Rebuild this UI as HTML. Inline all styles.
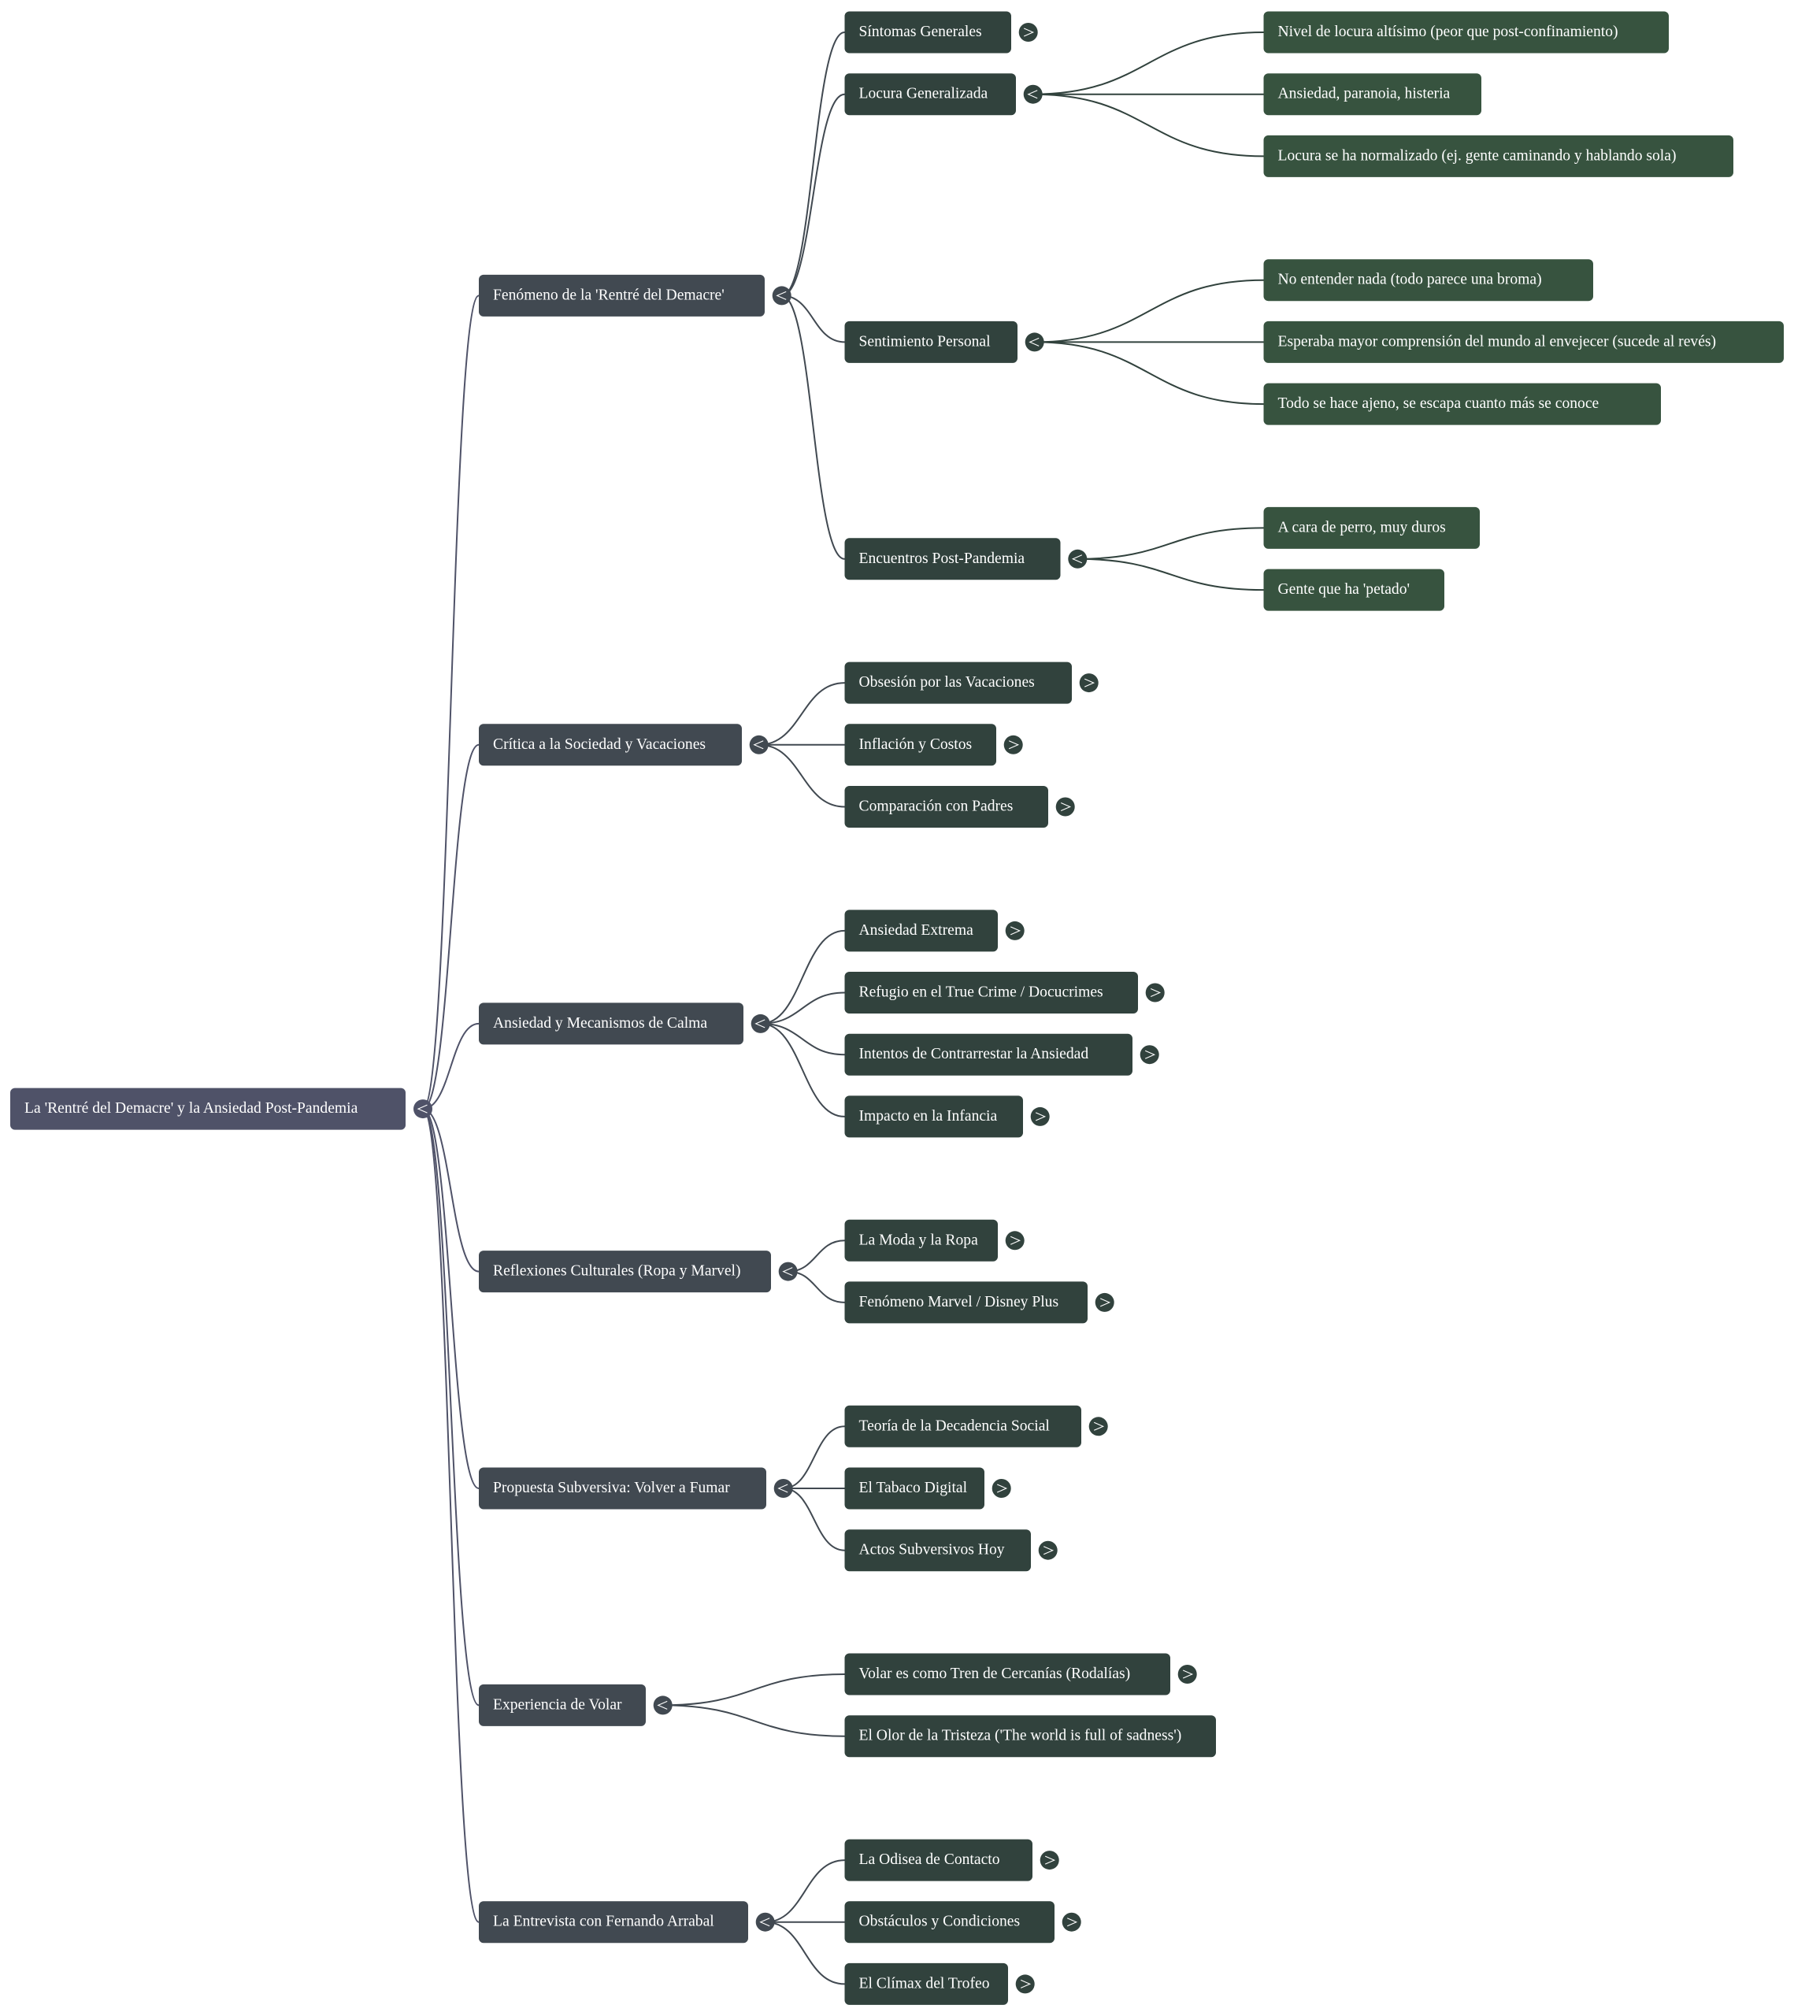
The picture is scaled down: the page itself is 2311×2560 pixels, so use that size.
<!DOCTYPE html>
<html><head><meta charset="utf-8"><style>
html,body{margin:0;padding:0;background:#fff;width:2311px;height:2560px;overflow:hidden}
svg{display:block}
text{font-family:"Liberation Serif","Times New Roman",serif;font-size:19.6px;fill:#fff}
.lr{fill:none;stroke:#4f5268;stroke-width:2}
.l1{fill:none;stroke:#414951;stroke-width:2}
.l2{fill:none;stroke:#31423d;stroke-width:2}
.ch{fill:none;stroke:#fff;stroke-width:1.1}
</style></head><body>
<svg width="2311" height="2560" viewBox="0 0 2311 2560" xmlns="http://www.w3.org/2000/svg">
<!-- root links -->
<g class="lr">
<path d="M537 1408.1C572.5 1408.1 572.5 375.4 608 375.4"/>
<path d="M537 1408.1C572.5 1408.1 572.5 945.8 608 945.8"/>
<path d="M537 1408.1C572.5 1408.1 572.5 1299.9 608 1299.9"/>
<path d="M537 1408.1C572.5 1408.1 572.5 1614.6 608 1614.6"/>
<path d="M537 1408.1C572.5 1408.1 572.5 1890 608 1890"/>
<path d="M537 1408.1C572.5 1408.1 572.5 2165.4 608 2165.4"/>
<path d="M537 1408.1C572.5 1408.1 572.5 2440.7 608 2440.7"/>
</g>
<!-- level1 links -->
<g class="l1">
<path d="M992.7 375.4C1032.6 375.4 1032.6 41 1072.5 41"/>
<path d="M992.7 375.4C1032.6 375.4 1032.6 119.7 1072.5 119.7"/>
<path d="M992.7 375.4C1032.6 375.4 1032.6 434.4 1072.5 434.4"/>
<path d="M992.7 375.4C1032.6 375.4 1032.6 709.8 1072.5 709.8"/>
<path d="M963.7 945.8C1018.1 945.8 1018.1 867.1 1072.5 867.1"/>
<path d="M963.7 945.8C1018.1 945.8 1018.1 945.8 1072.5 945.8"/>
<path d="M963.7 945.8C1018.1 945.8 1018.1 1024.5 1072.5 1024.5"/>
<path d="M965.7 1299.9C1019.1 1299.9 1019.1 1181.9 1072.5 1181.9"/>
<path d="M965.7 1299.9C1019.1 1299.9 1019.1 1260.5 1072.5 1260.5"/>
<path d="M965.7 1299.9C1019.1 1299.9 1019.1 1339.2 1072.5 1339.2"/>
<path d="M965.7 1299.9C1019.1 1299.9 1019.1 1417.9 1072.5 1417.9"/>
<path d="M1000.7 1614.6C1036.6 1614.6 1036.6 1575.3 1072.5 1575.3"/>
<path d="M1000.7 1614.6C1036.6 1614.6 1036.6 1653.9 1072.5 1653.9"/>
<path d="M994.7 1890C1033.6 1890 1033.6 1811.3 1072.5 1811.3"/>
<path d="M994.7 1890C1033.6 1890 1033.6 1890 1072.5 1890"/>
<path d="M994.7 1890C1033.6 1890 1033.6 1968.7 1072.5 1968.7"/>
<path d="M841.7 2165.4C957.1 2165.4 957.1 2126 1072.5 2126"/>
<path d="M841.7 2165.4C957.1 2165.4 957.1 2204.7 1072.5 2204.7"/>
<path d="M971.7 2440.7C1022.1 2440.7 1022.1 2362.1 1072.5 2362.1"/>
<path d="M971.7 2440.7C1022.1 2440.7 1022.1 2440.7 1072.5 2440.7"/>
<path d="M971.7 2440.7C1022.1 2440.7 1022.1 2519.4 1072.5 2519.4"/>
</g>
<!-- level2 links -->
<g class="l2">
<path d="M1311.7 119.7C1458.1 119.7 1458.1 41 1604.5 41"/>
<path d="M1311.7 119.7C1458.1 119.7 1458.1 119.7 1604.5 119.7"/>
<path d="M1311.7 119.7C1458.1 119.7 1458.1 198.4 1604.5 198.4"/>
<path d="M1313.7 434.4C1459.1 434.4 1459.1 355.7 1604.5 355.7"/>
<path d="M1313.7 434.4C1459.1 434.4 1459.1 434.4 1604.5 434.4"/>
<path d="M1313.7 434.4C1459.1 434.4 1459.1 513.1 1604.5 513.1"/>
<path d="M1368.3 709.8C1486.4 709.8 1486.4 670.4 1604.5 670.4"/>
<path d="M1368.3 709.8C1486.4 709.8 1486.4 749.1 1604.5 749.1"/>
</g>

<!-- root node -->
<rect x="13" y="1381.6" width="502" height="53" rx="6" fill="#4f5268"/>
<text x="31" y="1413.1">La 'Rentré del Demacre' y la Ansiedad Post-Pandemia</text>
<g transform="translate(537,1408.1)"><circle r="12" fill="#4f5268"/><polyline class="ch" points="5.5,-5 -6,0 5.5,5"/></g>

<!-- level1 nodes -->
<g fill="#414951">
<rect x="608" y="348.9" width="363" height="53" rx="6"/>
<rect x="608" y="919.3" width="334" height="53" rx="6"/>
<rect x="608" y="1273.4" width="336" height="53" rx="6"/>
<rect x="608" y="1588.1" width="371" height="53" rx="6"/>
<rect x="608" y="1863.5" width="365" height="53" rx="6"/>
<rect x="608" y="2138.9" width="212" height="53" rx="6"/>
<rect x="608" y="2414.2" width="342" height="53" rx="6"/>
<circle cx="992.7" cy="375.4" r="12"/>
<circle cx="963.7" cy="945.8" r="12"/>
<circle cx="965.7" cy="1299.9" r="12"/>
<circle cx="1000.7" cy="1614.6" r="12"/>
<circle cx="994.7" cy="1890" r="12"/>
<circle cx="841.7" cy="2165.4" r="12"/>
<circle cx="971.7" cy="2440.7" r="12"/>
</g>
<text x="626" y="380.4">Fenómeno de la 'Rentré del Demacre'</text>
<text x="626" y="950.8">Crítica a la Sociedad y Vacaciones</text>
<text x="626" y="1304.9">Ansiedad y Mecanismos de Calma</text>
<text x="626" y="1619.6">Reflexiones Culturales (Ropa y Marvel)</text>
<text x="626" y="1895">Propuesta Subversiva: Volver a Fumar</text>
<text x="626" y="2170.4">Experiencia de Volar</text>
<text x="626" y="2445.7">La Entrevista con Fernando Arrabal</text>
<g class="ch">
<polyline points="998.2,370.4 986.7,375.4 998.2,380.4"/>
<polyline points="969.2,940.8 957.7,945.8 969.2,950.8"/>
<polyline points="971.2,1294.9 959.7,1299.9 971.2,1304.9"/>
<polyline points="1006.2,1609.6 994.7,1614.6 1006.2,1619.6"/>
<polyline points="1000.2,1885 988.7,1890 1000.2,1895"/>
<polyline points="847.2,2160.4 835.7,2165.4 847.2,2170.4"/>
<polyline points="977.2,2435.7 965.7,2440.7 977.2,2445.7"/>
</g>

<!-- level2 nodes -->
<g fill="#31423d">
<rect x="1072.5" y="14.5" width="211.5" height="53" rx="6"/>
<rect x="1072.5" y="93.2" width="217.5" height="53" rx="6"/>
<rect x="1072.5" y="407.9" width="219.5" height="53" rx="6"/>
<rect x="1072.5" y="683.3" width="274" height="53" rx="6"/>
<rect x="1072.5" y="840.6" width="288.5" height="53" rx="6"/>
<rect x="1072.5" y="919.3" width="192.5" height="53" rx="6"/>
<rect x="1072.5" y="998" width="258.5" height="53" rx="6"/>
<rect x="1072.5" y="1155.4" width="194.5" height="53" rx="6"/>
<rect x="1072.5" y="1234" width="372.5" height="53" rx="6"/>
<rect x="1072.5" y="1312.7" width="365.5" height="53" rx="6"/>
<rect x="1072.5" y="1391.4" width="226.5" height="53" rx="6"/>
<rect x="1072.5" y="1548.8" width="194.5" height="53" rx="6"/>
<rect x="1072.5" y="1627.4" width="308.5" height="53" rx="6"/>
<rect x="1072.5" y="1784.8" width="300.5" height="53" rx="6"/>
<rect x="1072.5" y="1863.5" width="177.5" height="53" rx="6"/>
<rect x="1072.5" y="1942.2" width="236.5" height="53" rx="6"/>
<rect x="1072.5" y="2099.5" width="413.5" height="53" rx="6"/>
<rect x="1072.5" y="2178.2" width="471.5" height="53" rx="6"/>
<rect x="1072.5" y="2335.6" width="238.5" height="53" rx="6"/>
<rect x="1072.5" y="2414.2" width="266.5" height="53" rx="6"/>
<rect x="1072.5" y="2492.9" width="207.5" height="53" rx="6"/>
<circle cx="1305.7" cy="41" r="12"/>
<circle cx="1311.7" cy="119.7" r="12"/>
<circle cx="1313.7" cy="434.4" r="12"/>
<circle cx="1368.3" cy="709.8" r="12"/>
<circle cx="1382.7" cy="867.1" r="12"/>
<circle cx="1286.7" cy="945.8" r="12"/>
<circle cx="1352.7" cy="1024.5" r="12"/>
<circle cx="1288.7" cy="1181.9" r="12"/>
<circle cx="1466.7" cy="1260.5" r="12"/>
<circle cx="1459.7" cy="1339.2" r="12"/>
<circle cx="1320.7" cy="1417.9" r="12"/>
<circle cx="1288.7" cy="1575.3" r="12"/>
<circle cx="1402.7" cy="1653.9" r="12"/>
<circle cx="1394.7" cy="1811.3" r="12"/>
<circle cx="1271.7" cy="1890" r="12"/>
<circle cx="1330.7" cy="1968.7" r="12"/>
<circle cx="1507.7" cy="2126" r="12"/>
<circle cx="1332.7" cy="2362.1" r="12"/>
<circle cx="1360.7" cy="2440.7" r="12"/>
<circle cx="1301.7" cy="2519.4" r="12"/>
</g>
<text x="1090.5" y="46">Síntomas Generales</text>
<text x="1090.5" y="124.7">Locura Generalizada</text>
<text x="1090.5" y="439.4">Sentimiento Personal</text>
<text x="1090.5" y="714.8">Encuentros Post-Pandemia</text>
<text x="1090.5" y="872.1">Obsesión por las Vacaciones</text>
<text x="1090.5" y="950.8">Inflación y Costos</text>
<text x="1090.5" y="1029.5">Comparación con Padres</text>
<text x="1090.5" y="1186.9">Ansiedad Extrema</text>
<text x="1090.5" y="1265.5">Refugio en el True Crime / Docucrimes</text>
<text x="1090.5" y="1344.2">Intentos de Contrarrestar la Ansiedad</text>
<text x="1090.5" y="1422.9">Impacto en la Infancia</text>
<text x="1090.5" y="1580.3">La Moda y la Ropa</text>
<text x="1090.5" y="1658.9">Fenómeno Marvel / Disney Plus</text>
<text x="1090.5" y="1816.3">Teoría de la Decadencia Social</text>
<text x="1090.5" y="1895">El Tabaco Digital</text>
<text x="1090.5" y="1973.7">Actos Subversivos Hoy</text>
<text x="1090.5" y="2131">Volar es como Tren de Cercanías (Rodalías)</text>
<text x="1090.5" y="2209.7">El Olor de la Tristeza ('The world is full of sadness')</text>
<text x="1090.5" y="2367.1">La Odisea de Contacto</text>
<text x="1090.5" y="2445.7">Obstáculos y Condiciones</text>
<text x="1090.5" y="2524.4">El Clímax del Trofeo</text>
<g class="ch">
<polyline points="1300.2,36 1311.7,41 1300.2,46"/>
<polyline points="1317.2,114.7 1305.7,119.7 1317.2,124.7"/>
<polyline points="1319.2,429.4 1307.7,434.4 1319.2,439.4"/>
<polyline points="1373.8,704.8 1362.3,709.8 1373.8,714.8"/>
<polyline points="1377.2,862.1 1388.7,867.1 1377.2,872.1"/>
<polyline points="1281.2,940.8 1292.7,945.8 1281.2,950.8"/>
<polyline points="1347.2,1019.5 1358.7,1024.5 1347.2,1029.5"/>
<polyline points="1283.2,1176.9 1294.7,1181.9 1283.2,1186.9"/>
<polyline points="1461.2,1255.5 1472.7,1260.5 1461.2,1265.5"/>
<polyline points="1454.2,1334.2 1465.7,1339.2 1454.2,1344.2"/>
<polyline points="1315.2,1412.9 1326.7,1417.9 1315.2,1422.9"/>
<polyline points="1283.2,1570.3 1294.7,1575.3 1283.2,1580.3"/>
<polyline points="1397.2,1648.9 1408.7,1653.9 1397.2,1658.9"/>
<polyline points="1389.2,1806.3 1400.7,1811.3 1389.2,1816.3"/>
<polyline points="1266.2,1885 1277.7,1890 1266.2,1895"/>
<polyline points="1325.2,1963.7 1336.7,1968.7 1325.2,1973.7"/>
<polyline points="1502.2,2121 1513.7,2126 1502.2,2131"/>
<polyline points="1327.2,2357.1 1338.7,2362.1 1327.2,2367.1"/>
<polyline points="1355.2,2435.7 1366.7,2440.7 1355.2,2445.7"/>
<polyline points="1296.2,2514.4 1307.7,2519.4 1296.2,2524.4"/>
</g>

<!-- level3 nodes -->
<g fill="#37533f">
<rect x="1604.5" y="14.5" width="514.5" height="53" rx="6"/>
<rect x="1604.5" y="93.2" width="276.5" height="53" rx="6"/>
<rect x="1604.5" y="171.9" width="596.5" height="53" rx="6"/>
<rect x="1604.5" y="329.2" width="418.5" height="53" rx="6"/>
<rect x="1604.5" y="407.9" width="660.5" height="53" rx="6"/>
<rect x="1604.5" y="486.6" width="504.5" height="53" rx="6"/>
<rect x="1604.5" y="643.9" width="274.5" height="53" rx="6"/>
<rect x="1604.5" y="722.6" width="229.5" height="53" rx="6"/>
</g>
<text x="1622.5" y="46">Nivel de locura altísimo (peor que post-confinamiento)</text>
<text x="1622.5" y="124.7">Ansiedad, paranoia, histeria</text>
<text x="1622.5" y="203.4">Locura se ha normalizado (ej. gente caminando y hablando sola)</text>
<text x="1622.5" y="360.7">No entender nada (todo parece una broma)</text>
<text x="1622.5" y="439.4">Esperaba mayor comprensión del mundo al envejecer (sucede al revés)</text>
<text x="1622.5" y="518.1">Todo se hace ajeno, se escapa cuanto más se conoce</text>
<text x="1622.5" y="675.4">A cara de perro, muy duros</text>
<text x="1622.5" y="754.1">Gente que ha 'petado'</text>
</svg>
</body></html>
